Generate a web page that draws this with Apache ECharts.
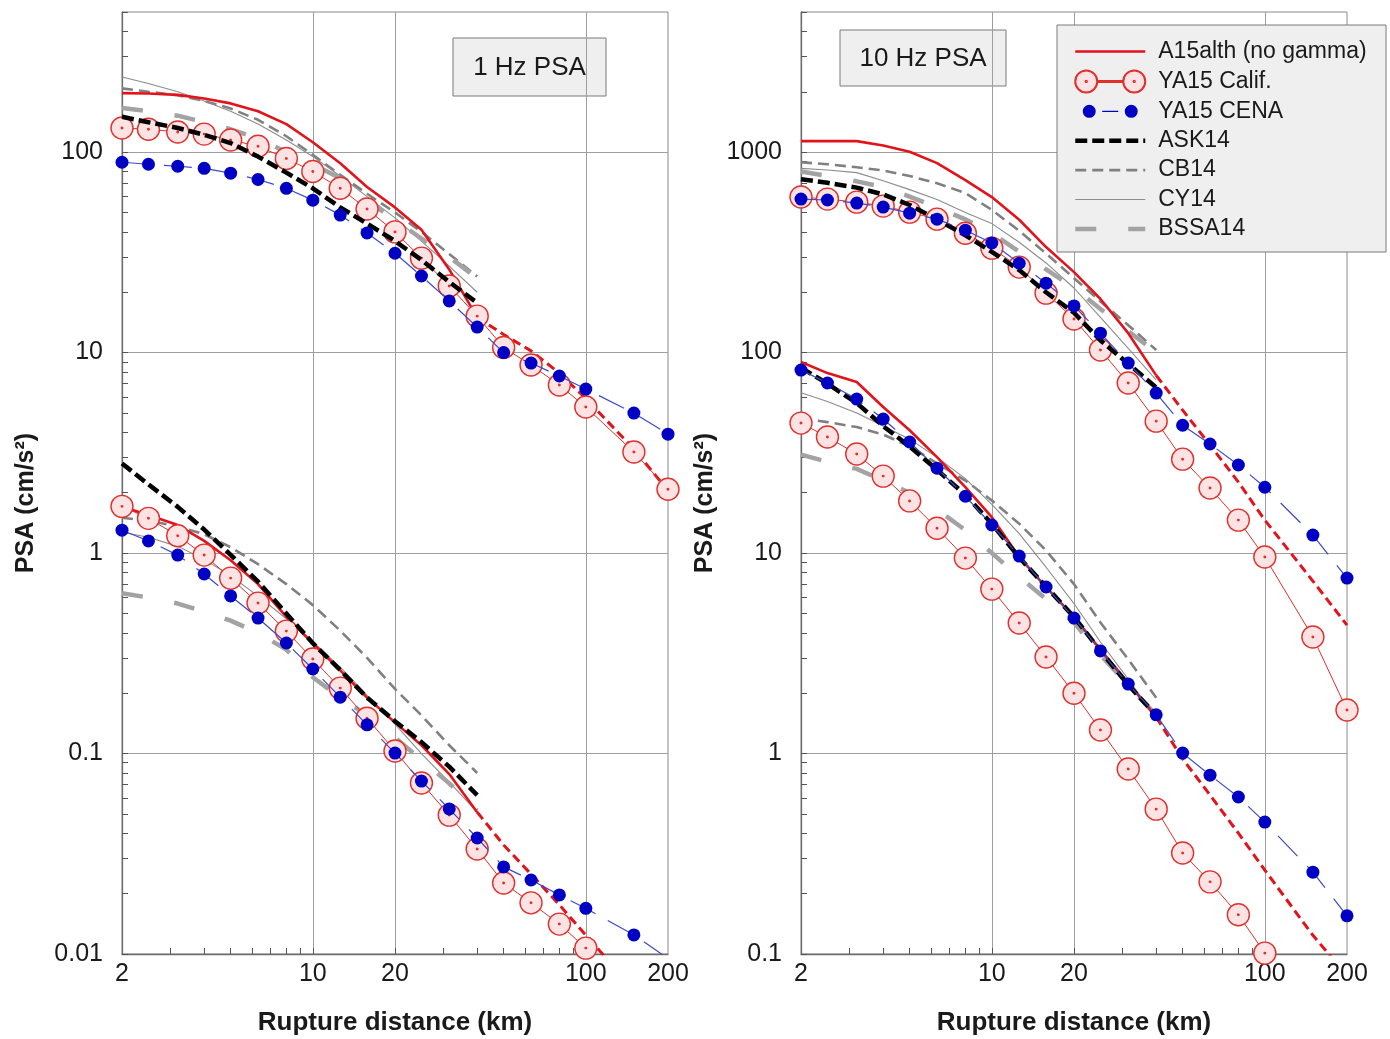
<!DOCTYPE html>
<html>
<head>
<meta charset="utf-8">
<title>PSA attenuation, 1 Hz and 10 Hz</title>
<script src="https://cdn.jsdelivr.net/npm/echarts@6/dist/echarts.min.js"></script>
<style>
  html, body { margin: 0; padding: 0; background: #ffffff; }
  #chart { width: 1390px; height: 1039px; }
</style>
</head>
<body>
<div id="chart"></div>
<script>
// ---- distances (km) ----
const DIST_YA   = [2, 2.5, 3.2, 4, 5, 6.3, 8, 10, 12.6, 15.8, 20, 25, 31.6, 40, 50, 63, 80, 100, 150, 200];
const DIST_GMPE = [2, 2.5, 3.2, 4, 5, 6.3, 8, 10, 12.6, 15.8, 20, 25, 31.6, 40];
const DIST_TAIL = [40, 50, 63, 80, 100, 150, 200];

// ---- axis ticks and labels ----
const X_LABELS = [2, 10, 20, 100, 200];
const X_GRID = [10, 20, 100];
const X_MINOR = [3, 4, 5, 6, 7, 8, 9, 10, 20, 30, 40, 50, 60, 70, 80, 90, 100];
const Y_LABELS_1HZ = [0.01, 0.1, 1, 10, 100];
const Y_LABELS_10HZ = [0.1, 1, 10, 100, 1000];

// ---- 1 Hz PSA, upper group ----
const hz1_up_A15      = [197, 196, 193, 185, 175, 160, 138, 112, 88, 67, 53, 41, 26, 15];
const hz1_up_A15_far  = [15, 12.3, 10.2, 7.9, 5.9, 3.3, 2.05];
const hz1_up_YAcal    = [132, 130, 126, 123, 115, 107, 93, 80, 66, 52, 40, 29.6, 21.5, 15.2, 10.6, 8.67, 6.89, 5.35, 3.19, 2.08];
const hz1_up_YAcena   = [89, 87, 85, 83, 78.5, 73, 66, 57.6, 48.5, 39.5, 31.3, 24.1, 18.1, 13.4, 10.0, 8.87, 7.64, 6.58, 4.99, 3.92];
const hz1_up_ASK      = [150, 141, 132, 122, 111, 95, 79, 66, 53, 44, 36, 29, 22.5, 17.7];
const hz1_up_CB       = [208, 200, 192, 180, 165, 145, 120, 97, 77, 62, 50, 40, 31, 24];
const hz1_up_CY       = [237, 220, 200, 180, 160, 138, 115, 95, 76, 60, 47, 36, 27, 20];
const hz1_up_BSSA     = [166, 160, 152, 141, 130, 117, 100, 87, 74, 57, 46, 37, 30, 23.5];

// ---- 1 Hz PSA, lower group ----
const hz1_lo_A15      = [1.70, 1.55, 1.38, 1.15, 0.92, 0.70, 0.48, 0.355, 0.26, 0.19, 0.143, 0.11, 0.079, 0.051];
const hz1_lo_A15_far  = [0.051, 0.035, 0.025, 0.0176, 0.0124, 0.0067, 0.0043];
const hz1_lo_YAcal    = [1.71, 1.49, 1.22, 0.977, 0.75, 0.563, 0.408, 0.296, 0.212, 0.150, 0.103, 0.0713, 0.0493, 0.0334, 0.0226, 0.0180, 0.0141, 0.0107, null, null];
const hz1_lo_YAcena   = [1.30, 1.15, 0.977, 0.786, 0.611, 0.474, 0.356, 0.264, 0.191, 0.139, 0.1005, 0.0729, 0.0529, 0.0379, 0.0272, 0.0234, 0.0197, 0.0169, 0.01245, 0.0095];
const hz1_lo_ASK      = [2.8, 2.2, 1.70, 1.31, 0.98, 0.72, 0.50, 0.355, 0.261, 0.19, 0.145, 0.114, 0.086, 0.062];
const hz1_lo_CB       = [1.50, 1.45, 1.36, 1.24, 1.07, 0.88, 0.70, 0.55, 0.41, 0.30, 0.21, 0.155, 0.11, 0.08];
const hz1_lo_CY       = [1.27, 1.20, 1.08, 0.93, 0.77, 0.61, 0.47, 0.36, 0.27, 0.195, 0.14, 0.10, 0.072, 0.051];
const hz1_lo_BSSA     = [0.63, 0.60, 0.56, 0.51, 0.46, 0.40, 0.33, 0.24, 0.19, 0.155, 0.12, 0.093, 0.071, 0.052];

// ---- 10 Hz PSA, upper group ----
const hz10_up_A15     = [1135, 1135, 1135, 1080, 1005, 881, 725, 597, 460, 336, 252, 185, 125, 77];
const hz10_up_A15_far = [77, 51.6, 34.6, 22.6, 14.6, 7.25, 4.37];
const hz10_up_YAcal   = [597, 583, 563, 538, 502, 463, 394, 332, 267, 198, 147, 103, 70.5, 45.5, 29.4, 21.1, 14.6, 9.55, 3.81, 1.65];
const hz10_up_YAcena  = [583, 577, 557, 532, 496, 463, 408, 352, 279, 222, 171, 125, 88.7, 62.8, 43.4, 35.0, 27.5, 21.3, 12.3, 7.5];
const hz10_up_ASK     = [733, 703, 665, 615, 545, 462, 385, 318, 258, 200, 158, 115, 88, 67];
const hz10_up_CB      = [890, 870, 840, 810, 760, 700, 625, 515, 405, 312, 235, 180, 137, 103];
const hz10_up_CY      = [830, 815, 790, 720, 650, 580, 500, 440, 355, 280, 210, 150, 105, 73];
const hz10_up_BSSA    = [800, 760, 715, 670, 600, 530, 462, 395, 318, 260, 210, 165, 128, 100];

// ---- 10 Hz PSA, lower group ----
const hz10_lo_A15     = [89.7, 79, 71.3, 53.5, 41, 30.1, 21.3, 15.1, 9.55, 6.77, 4.8, 3.3, 2.25, 1.52];
const hz10_lo_A15_far = [1.52, 0.94, 0.621, 0.401, 0.262, 0.124, 0.078];
const hz10_lo_YAcal   = [44.5, 37.9, 31.2, 24.2, 18.2, 13.3, 9.44, 6.61, 4.48, 3.03, 2.0, 1.31, 0.837, 0.528, 0.319, 0.229, 0.157, 0.101, null, null];
const hz10_lo_YAcena  = [81.8, 70.5, 58.6, 46.6, 35.8, 26.5, 19.2, 13.8, 9.66, 6.77, 4.74, 3.25, 2.22, 1.56, 1.005, 0.78, 0.607, 0.455, 0.256, 0.155];
const hz10_lo_ASK     = [84, 70, 56, 43, 34, 26, 19.5, 14, 9.5, 6.8, 4.8, 3.25, 2.2, 1.55];
const hz10_lo_CB      = [47, 45, 42.5, 39, 34, 28, 23, 18.3, 14, 10.3, 7.0, 4.5, 2.95, 1.9];
const hz10_lo_CY      = [63, 57, 50, 43, 37, 30, 23.5, 17.5, 12.5, 8.5, 5.6, 3.6, 2.35, 1.5];
const hz10_lo_BSSA    = [31, 28.5, 26.3, 23, 20, 16.5, 13, 10, 7.6, 5.9, 4.5, 3.1, 2.2, 1.55];

// ---- names ----
const N_A15 = 'A15alth (no gamma)';
const N_CAL = 'YA15 Calif.';
const N_CENA = 'YA15 CENA';
const N_ASK = 'ASK14';
const N_CB = 'CB14';
const N_CY = 'CY14';
const N_BSSA = 'BSSA14';

const FONT = '"Liberation Sans", Arial, Helvetica, sans-serif';
const TEXT = '#1a1a1a';

// ticks at 1..9 x each decade inside [lo, hi]
function decadeTicks(lo, hi) {
  const out = [];
  for (let e = -3; e <= 4; e++) {
    for (let m = 1; m <= 9; m++) {
      const v = Number((m * Math.pow(10, e)).toPrecision(6));
      if (v >= lo && v <= hi) out.push(v);
    }
  }
  return out;
}

function pairs(xs, ys) {
  const out = [];
  xs.forEach((x, i) => { if (ys[i] != null) out.push([x, ys[i]]); });
  return out;
}

const CAL_SYMBOL = 'path://M10,0A10,10,0,1,1,10,20A10,10,0,1,1,10,0ZM10,9.3A0.7,0.7,0,1,1,10,10.7A0.7,0.7,0,1,1,10,9.3Z';
const CAL_ICON = 'path://M0,12A11,11,0,1,1,22,12A11,11,0,1,1,0,12ZM48,12A11,11,0,1,1,70,12A11,11,0,1,1,48,12Z' +
                 'M22,11.5H48V12.5H22Z' +
                 'M11,11.3A0.7,0.7,0,1,1,11,12.7A0.7,0.7,0,1,1,11,11.3ZM59,11.3A0.7,0.7,0,1,1,59,12.7A0.7,0.7,0,1,1,59,11.3Z';
const CENA_ICON = 'path://M0,6.5L0,6.5M70,6.5L70,6.5' +
                  'M7.5,6.5A6.5,6.5,0,1,1,20.5,6.5A6.5,6.5,0,1,1,7.5,6.5Z' +
                  'M49.5,6.5A6.5,6.5,0,1,1,62.5,6.5A6.5,6.5,0,1,1,49.5,6.5Z' +
                  'M27,5.9H43V7.1H27Z';

const STYLES = {
  A15:    { name: N_A15,  z: 4, lineStyle: { color: '#e3131b', width: 2.6, type: 'solid' } },
  A15far: { name: N_A15,  z: 4, lineStyle: { color: '#e3131b', width: 3, type: [9, 5] } },
  ASK:    { name: N_ASK,  z: 6, lineStyle: { color: '#000000', width: 4.5, type: [12, 5] } },
  CB:     { name: N_CB,   z: 3, lineStyle: { color: '#808080', width: 2.6, type: [11, 6] } },
  CY:     { name: N_CY,   z: 3, lineStyle: { color: '#8c8c8c', width: 1.1, type: 'solid' } },
  BSSA:   { name: N_BSSA, z: 3, lineStyle: { color: '#a3a3a3', width: 4.5, type: [21, 32] } }
};

function curve(key, g, xs, ys) {
  const s = STYLES[key];
  return {
    type: 'line', name: s.name, xAxisIndex: 2 * g, yAxisIndex: 2 * g,
    data: pairs(xs, ys), symbol: 'none', z: s.z, silent: true,
    itemStyle: { color: s.lineStyle.color },
    lineStyle: s.lineStyle, clip: true
  };
}

function calif(g, ys) {
  return {
    type: 'line', name: N_CAL, xAxisIndex: 2 * g, yAxisIndex: 2 * g,
    data: pairs(DIST_YA, ys), z: 5, silent: true, clip: true,
    symbol: CAL_SYMBOL, symbolSize: 22,
    itemStyle: { color: '#fde3e3', borderColor: '#e0302c', borderWidth: 1.4 },
    lineStyle: { color: '#e0302c', width: 1 }
  };
}

function cena(g, ys) {
  return {
    type: 'line', name: N_CENA, xAxisIndex: 2 * g, yAxisIndex: 2 * g,
    data: pairs(DIST_YA, ys), z: 7, silent: true, clip: true,
    symbol: 'circle', symbolSize: 13,
    itemStyle: { color: '#0000c4', borderWidth: 0 },
    lineStyle: { color: '#3c4ac8', width: 1.2, type: [28, 14] }
  };
}

function panelSeries(g, d) {
  return [
    curve('A15', g, DIST_GMPE, d.upA15), curve('A15', g, DIST_GMPE, d.loA15),
    curve('A15far', g, DIST_TAIL, d.upA15far), curve('A15far', g, DIST_TAIL, d.loA15far),
    calif(g, d.upCal), calif(g, d.loCal),
    cena(g, d.upCena), cena(g, d.loCena),
    curve('ASK', g, DIST_GMPE, d.upASK), curve('ASK', g, DIST_GMPE, d.loASK),
    curve('CB', g, DIST_GMPE, d.upCB), curve('CB', g, DIST_GMPE, d.loCB),
    curve('CY', g, DIST_GMPE, d.upCY), curve('CY', g, DIST_GMPE, d.loCY),
    curve('BSSA', g, DIST_GMPE, d.upBSSA), curve('BSSA', g, DIST_GMPE, d.loBSSA)
  ];
}

const tickFormat = v => String(+Number(v).toPrecision(6));

function xAxes(g) {
  return [
    {
      gridIndex: g, type: 'log', logBase: 10, min: 2, max: 200, position: 'bottom',
      name: 'Rupture distance (km)', nameLocation: 'middle', nameGap: 56,
      nameTextStyle: { fontSize: 26, fontWeight: 'bold', color: TEXT, fontFamily: FONT },
      axisLine: { show: true, lineStyle: { color: '#6e6e6e', width: 1.3 } },
      axisTick: { show: true, inside: true, length: 6, customValues: X_MINOR, lineStyle: { color: '#555555', width: 1 } },
      axisLabel: { show: true, customValues: X_LABELS, formatter: tickFormat,
                   fontSize: 25, color: TEXT, fontFamily: FONT, margin: 8 },
      splitLine: { show: false }, minorTick: { show: false }
    },
    {
      gridIndex: g, type: 'log', logBase: 10, min: 2, max: 200, position: 'bottom',
      axisLine: { show: false },
      axisTick: { show: false, customValues: X_GRID },
      axisLabel: { show: false, customValues: X_GRID },
      splitLine: { show: true, lineStyle: { color: '#9e9e9e', width: 1 } }
    }
  ];
}

function yAxes(g, lo, hi, labels) {
  return [
    {
      gridIndex: g, type: 'log', logBase: 10, min: lo, max: hi, position: 'left',
      name: 'PSA (cm/s²)', nameLocation: 'middle', nameGap: 83,
      nameTextStyle: { fontSize: 25, fontWeight: 'bold', color: TEXT, fontFamily: FONT, padding: [0, 40, 0, 0] },
      axisLine: { show: true, lineStyle: { color: '#6e6e6e', width: 1.3 } },
      axisTick: { show: true, inside: true, length: 6, customValues: decadeTicks(lo, hi), lineStyle: { color: '#555555', width: 1 } },
      axisLabel: { show: true, customValues: labels, formatter: tickFormat,
                   fontSize: 25, color: TEXT, fontFamily: FONT, margin: 19 },
      splitLine: { show: false }, minorTick: { show: false }
    },
    {
      gridIndex: g, type: 'log', logBase: 10, min: lo, max: hi, position: 'left',
      axisLine: { show: false },
      axisTick: { show: false, customValues: labels },
      axisLabel: { show: false, customValues: labels },
      splitLine: { show: true, lineStyle: { color: '#9e9e9e', width: 1 } }
    }
  ];
}

const panel1 = {
  upA15: hz1_up_A15, loA15: hz1_lo_A15, upA15far: hz1_up_A15_far, loA15far: hz1_lo_A15_far,
  upCal: hz1_up_YAcal, loCal: hz1_lo_YAcal, upCena: hz1_up_YAcena, loCena: hz1_lo_YAcena,
  upASK: hz1_up_ASK, loASK: hz1_lo_ASK, upCB: hz1_up_CB, loCB: hz1_lo_CB,
  upCY: hz1_up_CY, loCY: hz1_lo_CY, upBSSA: hz1_up_BSSA, loBSSA: hz1_lo_BSSA
};
const panel10 = {
  upA15: hz10_up_A15, loA15: hz10_lo_A15, upA15far: hz10_up_A15_far, loA15far: hz10_lo_A15_far,
  upCal: hz10_up_YAcal, loCal: hz10_lo_YAcal, upCena: hz10_up_YAcena, loCena: hz10_lo_YAcena,
  upASK: hz10_up_ASK, loASK: hz10_lo_ASK, upCB: hz10_up_CB, loCB: hz10_lo_CB,
  upCY: hz10_up_CY, loCY: hz10_lo_CY, upBSSA: hz10_up_BSSA, loBSSA: hz10_lo_BSSA
};

// fixed plot rectangles; axis names may sit near the canvas edge
const gridFrame = { show: true, borderColor: '#8a8a8a', borderWidth: 1, backgroundColor: 'transparent',
                    containLabel: false, outerBoundsMode: 'none' };

function labelBox(x, y, w, h, text) {
  return {
    type: 'group', z: 10,
    children: [
      { type: 'rect', shape: { x: x, y: y, width: w, height: h },
        style: { fill: '#efefef', stroke: '#7a7a7a', lineWidth: 1 } },
      { type: 'text', x: x + w / 2, y: y + h / 2 + 1,
        style: { text: text, fill: TEXT, font: '26px ' + FONT, align: 'center', verticalAlign: 'middle' } }
    ]
  };
}

// legend rows for plain curves show only the line sample, at the curve's own width
function lineOnly(name, key) {
  return { name: name, itemStyle: { opacity: 0 }, lineStyle: { width: STYLES[key].lineStyle.width } };
}

const chart = echarts.init(document.getElementById('chart'), null, { renderer: 'canvas' });
chart.setOption({
  animation: false,
  backgroundColor: '#ffffff',
  grid: [
    Object.assign({ left: 122, top: 12, width: 546, height: 942 }, gridFrame),
    Object.assign({ left: 801, top: 12, width: 546, height: 942 }, gridFrame)
  ],
  xAxis: [].concat(xAxes(0), xAxes(1)),
  yAxis: [].concat(yAxes(0, 0.01, 500, Y_LABELS_1HZ), yAxes(1, 0.1, 5000, Y_LABELS_10HZ)),
  legend: {
    orient: 'vertical', left: 1068, top: 35, z: 20,
    itemWidth: 70, itemHeight: 24, itemGap: 6.4, selectedMode: false,
    textStyle: { fontSize: 23, color: TEXT, fontFamily: FONT, padding: [0, 0, 0, 8] },
    data: [
      lineOnly(N_A15, 'A15'),
      { name: N_CAL, icon: CAL_ICON },
      { name: N_CENA, icon: CENA_ICON },
      lineOnly(N_ASK, 'ASK'),
      lineOnly(N_CB, 'CB'),
      lineOnly(N_CY, 'CY'),
      lineOnly(N_BSSA, 'BSSA')
    ]
  },
  graphic: [
    labelBox(453, 38, 153, 58, '1 Hz PSA'),
    labelBox(840, 30, 166, 56, '10 Hz PSA'),
    { type: 'rect', z: 15, shape: { x: 1057, y: 25, width: 329, height: 227 },
      style: { fill: '#efefef', stroke: '#7a7a7a', lineWidth: 1 } }
  ],
  series: [].concat(panelSeries(0, panel1), panelSeries(1, panel10))
});
</script>
</body>
</html>
